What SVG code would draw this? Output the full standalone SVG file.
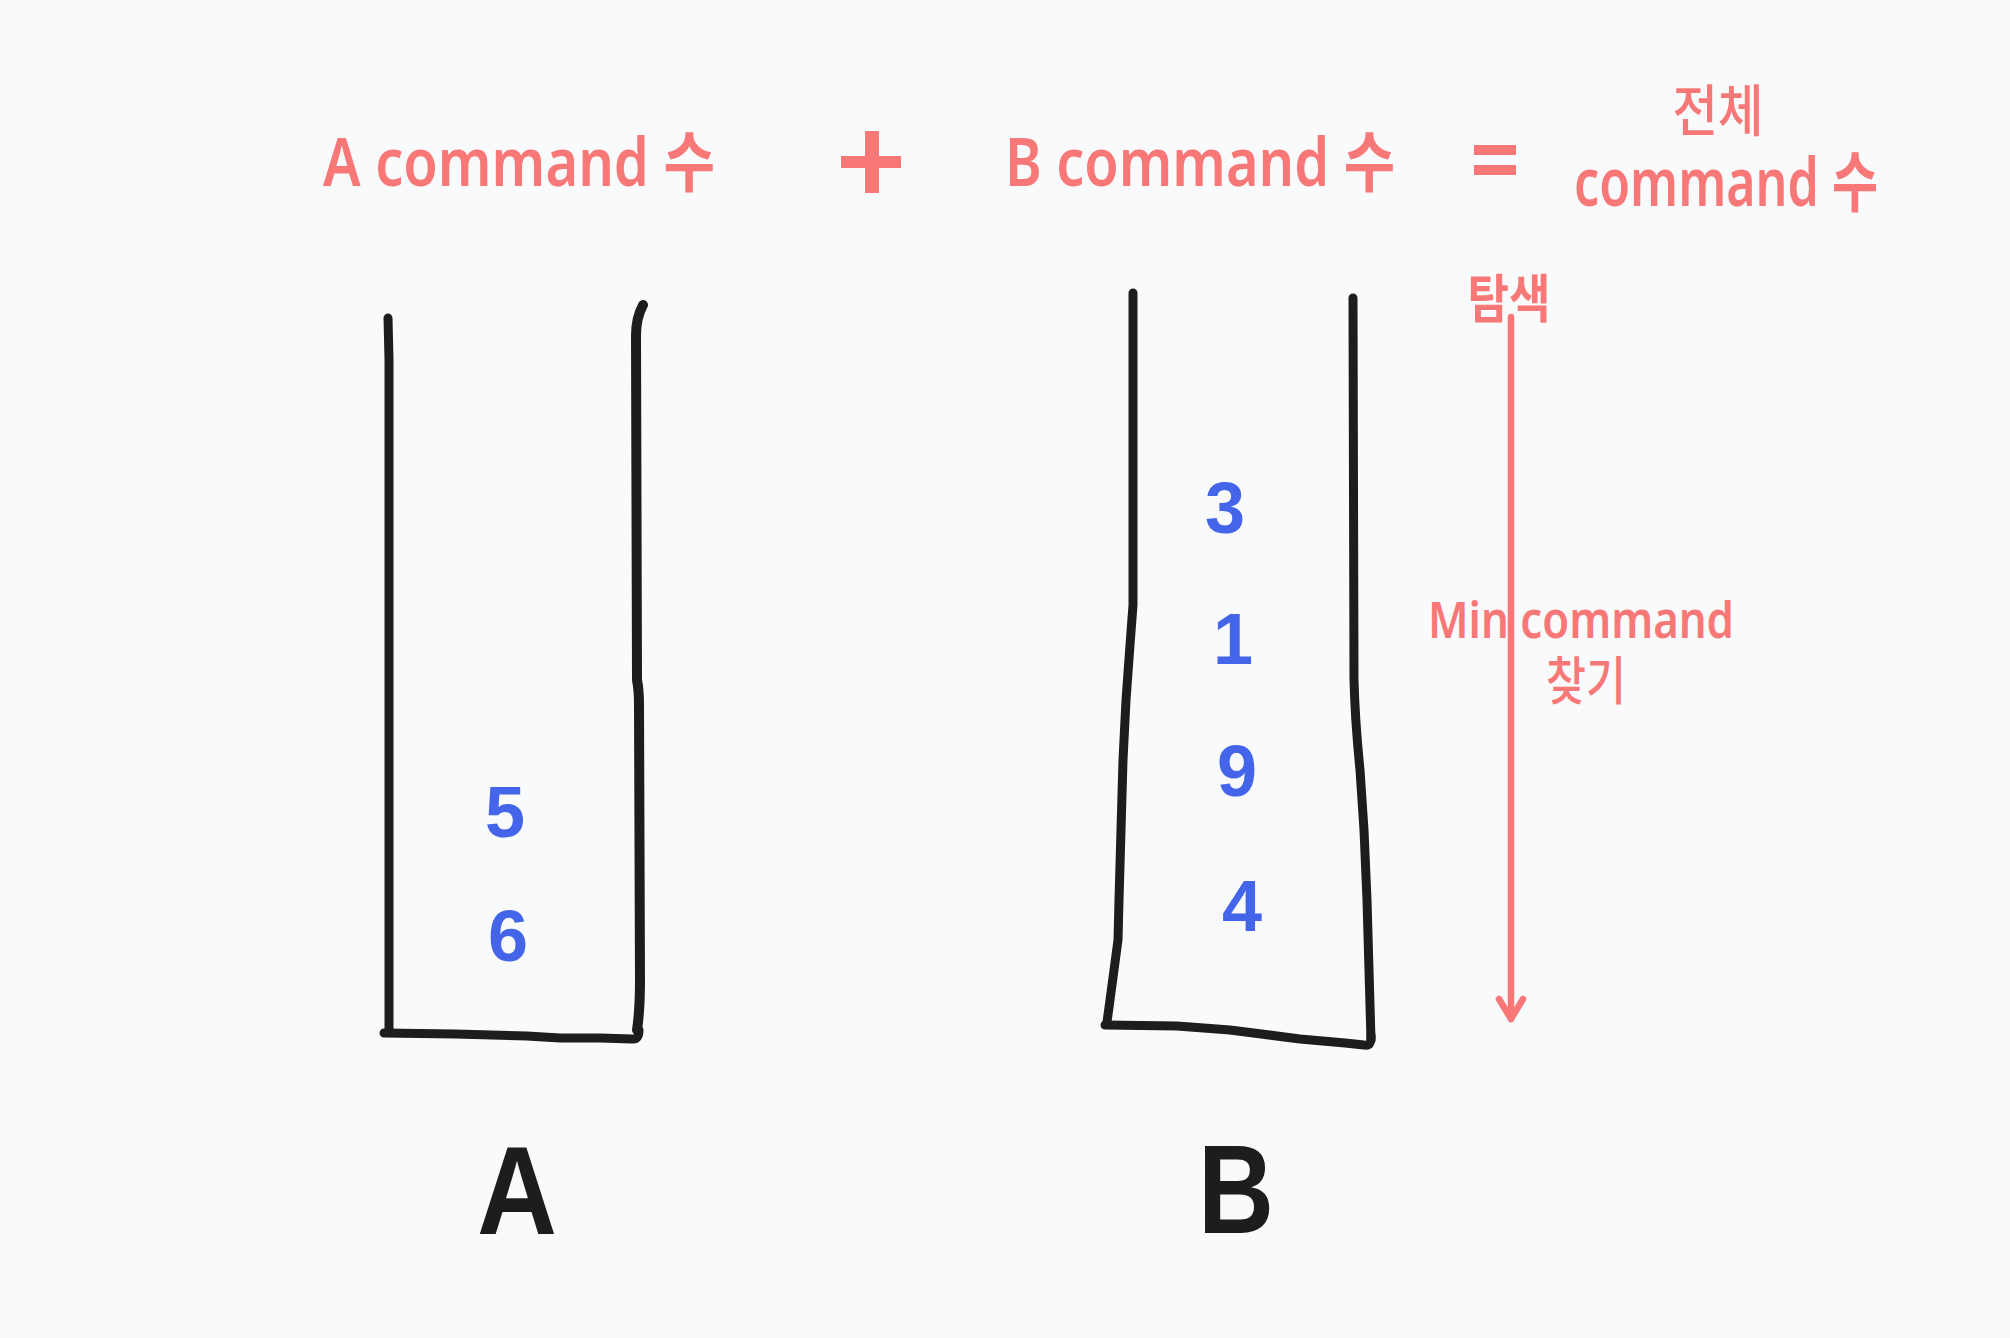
<svg xmlns="http://www.w3.org/2000/svg" width="2010" height="1338" viewBox="0 0 2010 1338">
<style>
.red{fill:#f87878;font-family:"Noto Sans","Noto Sans CJK KR","Liberation Sans",sans-serif;font-weight:600}
.ko{fill:#f87878;font-family:"Noto Sans CJK KR","Noto Sans",sans-serif;font-weight:500}
.num{fill:#4465e9;font-family:"Liberation Sans","Noto Sans",sans-serif;font-weight:700;font-size:72px;text-anchor:middle}
.lbl{fill:#1d1d1d;font-family:"Liberation Sans","Noto Sans",sans-serif;font-weight:700;font-size:126px;text-anchor:middle}
.stroke{fill:none;stroke:#1d1d1d;stroke-width:9;stroke-linecap:round;stroke-linejoin:round}
.arrow{fill:none;stroke:#f87878;stroke-width:6.5;stroke-linecap:round;stroke-linejoin:round}
</style>
<rect width="2010" height="1338" fill="#f9fafb"/>

<g id="title">
  <text id="t-a" class="red" x="323" y="186" font-size="66" textLength="392" lengthAdjust="spacingAndGlyphs">A command 수</text>
  <g id="plus" fill="#f87878">
    <rect x="865" y="131" width="14" height="62"/>
    <rect x="841" y="156" width="60" height="12"/>
  </g>
  <text id="t-b" class="red" x="1005" y="186" font-size="66" textLength="390" lengthAdjust="spacingAndGlyphs">B command 수</text>
  <g id="equals" fill="#f87878">
    <rect x="1474" y="145" width="42" height="10"/>
    <rect x="1474" y="165" width="42" height="10"/>
  </g>
  <text id="t-total1" class="ko" x="1718" y="131" font-size="56" text-anchor="middle" textLength="91" lengthAdjust="spacingAndGlyphs">전체</text>
  <text id="t-total2" class="red" x="1726" y="206" font-size="66" text-anchor="middle" textLength="304" lengthAdjust="spacingAndGlyphs">command 수</text>
</g>

<g id="stackA">
  <path class="stroke" d="M388 318 L389 360 L389 1030"/>
  <path class="stroke" d="M384 1033 L455 1034 L527 1036 L560 1038 L600 1038 L632 1039 Q639 1040 639 1030"/>
  <path class="stroke" d="M643 305 Q636 318 636 335 L637 680 Q639 690 639 705 L640 980 Q640 1010 637 1030" style="stroke-width:10"/>
  <text class="num" x="505" y="837">5</text>
  <text class="num" x="508" y="961">6</text>
  <text id="label-a" class="lbl" x="517" y="1234" textLength="80" lengthAdjust="spacingAndGlyphs">A</text>
</g>

<g id="stackB">
  <path class="stroke" d="M1133 293 L1133 605 L1130 645 L1126 700 L1123 760 L1121 830 L1119 900 L1118 940 L1114 970 L1110 1000 L1107 1022"/>
  <path class="stroke" d="M1105 1025 L1177 1026 L1230 1030 L1300 1039 L1345 1043 L1364 1045 Q1372 1047 1371 1035"/>
  <path class="stroke" d="M1353 298 L1354 680 Q1355 720 1360 770 L1364 830 L1367 900 L1369 970 L1371 1040"/>
  <text class="num" x="1225" y="533">3</text>
  <text class="num" x="1233" y="664">1</text>
  <text class="num" x="1237" y="796">9</text>
  <text class="num" x="1242" y="931">4</text>
  <text id="label-b" class="lbl" x="1236" y="1233" textLength="76" lengthAdjust="spacingAndGlyphs">B</text>
</g>

<g id="connectors">
  <path class="arrow" d="M1511 317 L1511 1019"/>
  <path class="arrow" d="M1499 999 L1511 1019 L1523 999"/>
</g>

<g id="search-labels">
  <text class="ko" x="1509" y="318" font-size="52" text-anchor="middle" textLength="83" lengthAdjust="spacingAndGlyphs" style="font-weight:700">탐색</text>
  <text class="red" x="1581" y="638" font-size="50" text-anchor="middle" textLength="306" lengthAdjust="spacingAndGlyphs">Min command</text>
  <text class="ko" x="1586" y="700" font-size="52" text-anchor="middle" textLength="80" lengthAdjust="spacingAndGlyphs">찾기</text>
</g>
</svg>
